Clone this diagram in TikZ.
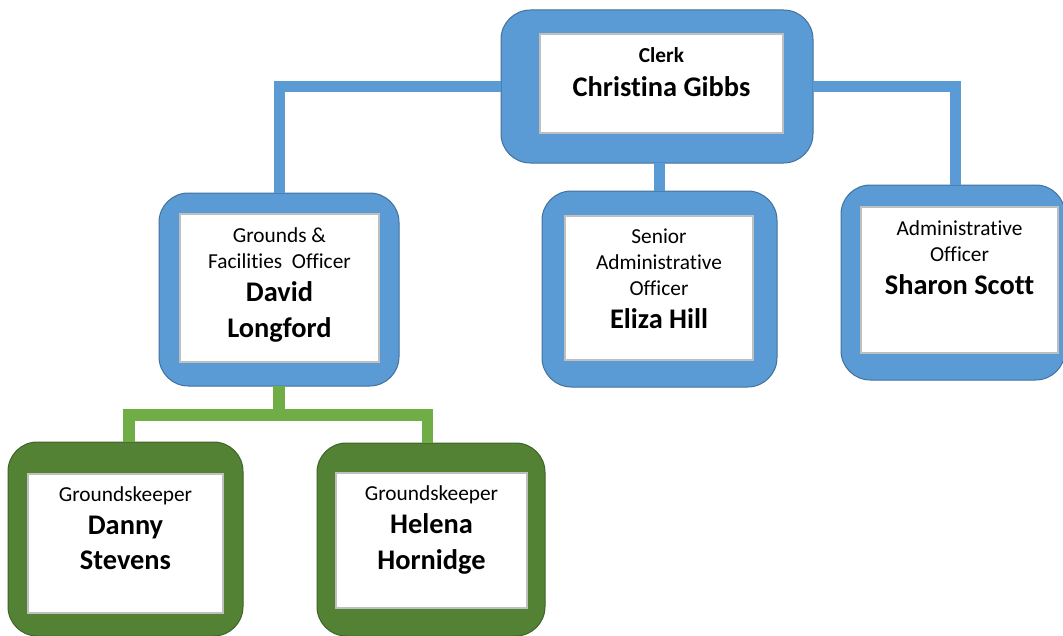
\documentclass[tikz,border=0pt]{standalone}
\usepackage{fontspec}
\setmainfont{Carlito}[Ligatures=NoCommon]
\usepackage{xcolor}
\usepackage{tikz}
\usetikzlibrary{positioning}

\definecolor{orgblue}{HTML}{5B9BD5}
\definecolor{orgblueline}{HTML}{41719C}
\definecolor{orggreen}{HTML}{548235}
\definecolor{orggreenline}{HTML}{3F6328}
\definecolor{linkgreen}{HTML}{70AD47}
\definecolor{cardgrey}{HTML}{BFBFBF}

\newcommand{\who}[1]{{\fontsize{21.3}{19.5}\selectfont\bfseries #1}}

\begin{document}
\begin{tikzpicture}[
        x=0.75pt, y=-0.75pt,
        bluebox/.style={rectangle, rounded corners=22pt, draw=orgblueline, fill=orgblue, line width=0.75pt, inner sep=0pt, outer sep=0pt},
        greenbox/.style={rectangle, rounded corners=22pt, draw=orggreenline, fill=orggreen, line width=0.75pt, inner sep=0pt, outer sep=0pt},
        card/.style={rectangle, draw=cardgrey, fill=white, line width=1pt, inner sep=0pt},
        role/.style={align=center, inner sep=0pt, font={\fontsize{16}{19.5}\selectfont\lineskiplimit=-20pt}},
        blueline/.style={draw=orgblue, line width=8.25pt, line join=miter},
        greenline/.style={draw=linkgreen, line width=8.5pt, line join=miter}
    ]
        \useasboundingbox (0,0) rectangle (1063,635);

        % Clerk
        \node[bluebox, minimum width=234pt, minimum height=114.75pt] (clerk) at (657,86.5) {};
        \node[card, minimum width=182.25pt, minimum height=74.25pt] (clerkin) at (661.5,83.5) {};
        \node[role, below=10.5pt of clerkin.north] (clerktext) {\textbf{Clerk}\\[5.6pt]\who{Christina Gibbs}};

        % Grounds & Facilities Officer
        \node[bluebox, minimum width=180pt, minimum height=144.75pt] (david) at (279,289.5) {};
        \node[card, minimum width=149.25pt, minimum height=111pt] (davidin) at (279.5,288) {};
        \node[role, below=10.75pt of davidin.north] (davidtext) {Grounds \&\\Facilities\ \ Officer\\[5.25pt]\who{David}\\[7.1pt]\who{Longford}};

        % Senior Administrative Officer
        \node[bluebox, minimum width=176.25pt, minimum height=147pt] (eliza) at (659.5,289) {};
        \node[card, minimum width=141pt, minimum height=108pt] (elizain) at (659,288) {};
        \node[role, below=10.25pt of elizain.north] (elizatext) {Senior\\Administrative\\Officer\\[5.25pt]\who{Eliza Hill}};

        % Administrative Officer
        \node[bluebox, minimum width=168pt, minimum height=146.25pt] (sharon) at (953,282.5) {};
        \node[card, minimum width=147.75pt, minimum height=109.5pt] (sharonin) at (959.5,280) {};
        \node[role, below=10.25pt of sharonin.north] (sharontext) {Administrative\\Officer\\[5.25pt]\who{Sharon Scott}};

        % Groundskeepers
        \node[greenbox, minimum width=176.25pt, minimum height=145.5pt] (danny) at (125.5,539) {};
        \node[card, minimum width=146.25pt, minimum height=104.25pt] (dannyin) at (125.5,543.5) {};
        \node[role, below=9.75pt of dannyin.north] (dannytext) {Groundskeeper\\[5.25pt]\who{Danny}\\[7.1pt]\who{Stevens}};

        \node[greenbox, minimum width=171pt, minimum height=144.75pt] (helena) at (431,539.5) {};
        \node[card, minimum width=143.25pt, minimum height=101.25pt] (helenain) at (431.5,540.5) {};
        \node[role, below=10pt of helenain.north] (helenatext) {Groundskeeper\\[5.25pt]\who{Helena}\\[7.1pt]\who{Hornidge}};

        % Connections
        \draw[blueline] (david.north) |- (clerk.west);
        \draw[blueline] ([xshift=1.5pt]sharon.north) |- (clerk.east);
        \draw[blueline] (eliza.north |- clerk.south) -- (eliza.north);

        \coordinate (split) at (279,415);
        \draw[greenline] (david.south) -- (split);
        \draw[greenline] ([xshift=2.6pt]danny.north) |- (split) -| ([xshift=-2.6pt]helena.north);
    \end{tikzpicture}
\end{document}
